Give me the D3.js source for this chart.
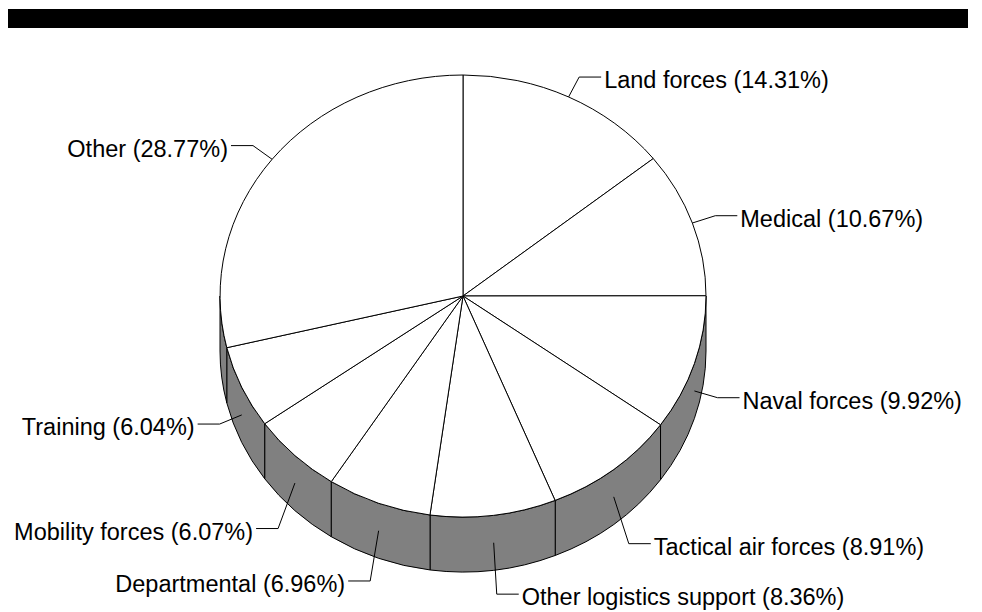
<!DOCTYPE html>
<html>
<head>
<meta charset="utf-8">
<script src="https://cdn.jsdelivr.net/npm/d3@7"></script>
<style>
  body { margin: 0; background: #fff; }
  text { font-family: "Liberation Sans", Arial, sans-serif; font-size: 23.5px; fill: #000; }
</style>
</head>
<body>
<div id="chart"></div>
<script>
// data
var categories = ["Land forces", "Medical", "Naval forces", "Tactical air forces",
  "Other logistics support", "Departmental", "Mobility forces", "Training", "Other"];
var shares = [14.31, 10.67, 9.92, 8.91, 8.36, 6.96, 6.07, 6.04, 28.77];

var width = 982, height = 612;
var cx = 463, cy = 296, rx = 243, ry = 221, depth = 55;

var svg = d3.select("#chart").append("svg")
    .attr("width", width)
    .attr("height", height);

// black header bar
svg.append("rect")
    .attr("x", 8).attr("y", 9)
    .attr("width", 960).attr("height", 19)
    .attr("fill", "#000");

var data = categories.map(function(c, i) { return {name: c, value: shares[i]}; });
var arcs = d3.pie().sort(null).value(function(d) { return d.value; })(data);

// point on the top ellipse for an angle measured clockwise from 12 o'clock
function pt(a, k, dy) {
  k = k || 1; dy = dy || 0;
  return [cx + rx * k * Math.sin(a), cy - ry * k * Math.cos(a) + dy];
}

// side wall (only the front half is visible)
var wall = svg.append("g");
arcs.forEach(function(d) {
  var b0 = Math.max(d.startAngle, Math.PI / 2),
      b1 = Math.min(d.endAngle, Math.PI * 3 / 2);
  if (b1 <= b0) return;
  var p0 = pt(b0), p1 = pt(b1), q1 = pt(b1, 1, depth), q0 = pt(b0, 1, depth);
  var large = (b1 - b0) > Math.PI ? 1 : 0;
  var path = "M" + p0 + "A" + rx + "," + ry + " 0 " + large + " 1 " + p1 +
    "L" + q1 + "A" + rx + "," + ry + " 0 " + large + " 0 " + q0 + "Z";
  wall.append("path")
      .attr("d", path)
      .attr("fill", "#808080")
      .attr("stroke", "#000")
      .attr("stroke-width", 1);
});

// top face
var arc = d3.arc().innerRadius(0).outerRadius(1);
svg.append("g")
    .attr("transform", "translate(" + cx + "," + cy + ") scale(" + rx + "," + ry + ")")
  .selectAll("path")
    .data(arcs)
  .enter().append("path")
    .attr("d", arc)
    .attr("fill", "#fff")
    .attr("stroke", "#000")
    .attr("stroke-width", 1)
    .attr("vector-effect", "non-scaling-stroke");

// labels with leader lines
var labels = svg.append("g");
arcs.forEach(function(d) {
  var mid = (d.startAngle + d.endAngle) / 2;
  var c = Math.cos(mid), s = Math.sin(mid);
  var anchorDy = c < 0 ? depth / 2 : 0;
  var elbowDy = c < -0.5 ? depth + 2 : anchorDy;
  var a = pt(mid, 1, anchorDy);
  var e = pt(mid, 1.1, elbowDy);
  var dir = s >= 0 ? 1 : -1;
  var h = [e[0] + dir * 22, e[1]];

  labels.append("polyline")
      .attr("points", [a, e, h].join(" "))
      .attr("fill", "none")
      .attr("stroke", "#000")
      .attr("stroke-width", 1);

  labels.append("text")
      .attr("x", h[0] + dir * 3)
      .attr("y", h[1] + 11)
      .attr("text-anchor", dir > 0 ? "start" : "end")
      .text(d.data.name + " (" + d.data.value.toFixed(2) + "%)");
});
</script>
</body>
</html>
